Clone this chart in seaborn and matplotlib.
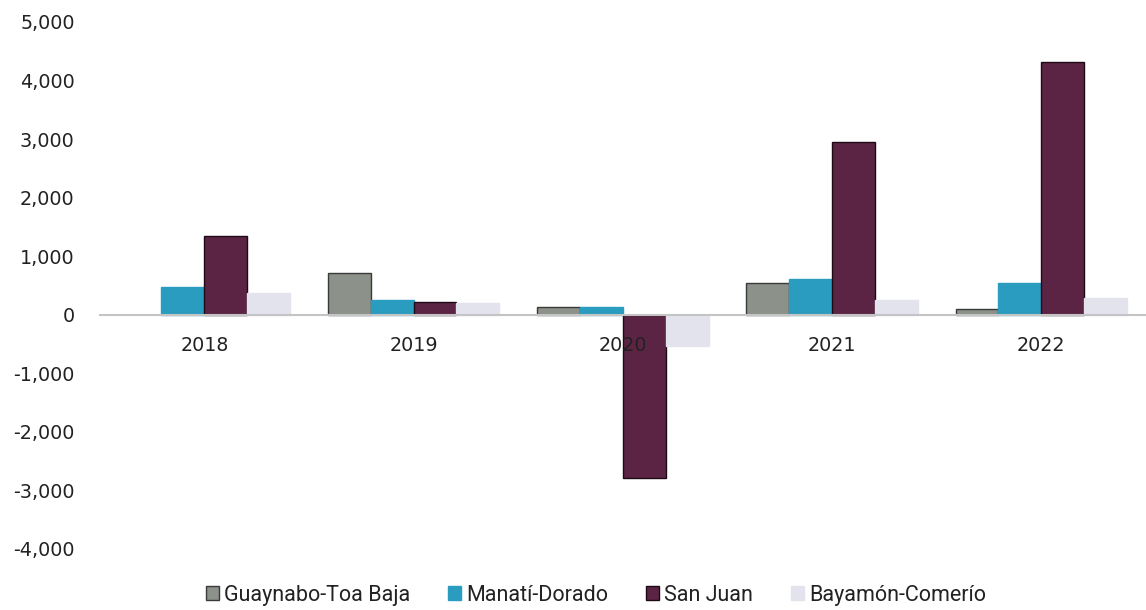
import matplotlib
matplotlib.use("Agg")
import matplotlib.pyplot as plt
import seaborn as sns
import pandas as pd
from matplotlib.ticker import FuncFormatter

years = ["2018", "2019", "2020", "2021", "2022"]
series = ["Guaynabo-Toa Baja", "Manatí-Dorado", "San Juan", "Bayamón-Comerío"]
guaynabo = [0, 720, 130, 540, 95]
manati = [475, 250, 125, 615, 550]
san_juan = [1350, 225, -2780, 2950, 4320]
bayamon = [370, 200, -530, 255, 280]
colors = ["#8c918a", "#2a9cbf", "#5c2444", "#e3e3ee"]
edges = ["#3a3a3a", "#2a9cbf", "#1e0a16", "#e3e3ee"]

rows = []
for name, vals in zip(series, [guaynabo, manati, san_juan, bayamon]):
    for y, v in zip(years, vals):
        rows.append({"year": y, "series": name, "value": v})
df = pd.DataFrame(rows)

sns.set_theme(style="white")
plt.rcParams["font.family"] = ["DejaVu Sans"]
plt.rcParams["axes.unicode_minus"] = False

fig = plt.figure(figsize=(11.46, 6.10), dpi=100)
ax = fig.add_axes([0.087, 0.1, 0.913, 0.864])

sns.barplot(data=df, x="year", y="value", hue="series", order=years,
            hue_order=series, palette=colors, width=0.82, gap=0,
            saturation=1, errorbar=None, ax=ax, legend=False)

for i, cont in enumerate(ax.containers):
    for p in cont:
        if p.get_height() == 0:
            p.set_linewidth(0)
        else:
            p.set_edgecolor(edges[i])
            p.set_linewidth(1.0)

ax.set_xlim(-0.5, 4.5)
ax.set_ylim(-4000, 5000)
ax.set_yticks(range(-4000, 5001, 1000))
ax.yaxis.set_major_formatter(FuncFormatter(lambda v, _: f"{int(v):,}"))
ax.set_xlabel("")
ax.set_ylabel("")

for s in ["top", "right", "left"]:
    ax.spines[s].set_visible(False)
ax.spines["bottom"].set_position(("data", 0))
ax.spines["bottom"].set_color("#c4c4c4")
ax.spines["bottom"].set_linewidth(1.5)
ax.set_axisbelow(False)

ax.tick_params(axis="x", length=0, pad=15, labelsize=13.8, labelcolor="#222222")
ax.tick_params(axis="y", length=0, pad=18, labelsize=13.8, labelcolor="#222222")
ax.grid(False)

handles = [plt.Rectangle((0, 0), 1, 1, facecolor=c, edgecolor=e, linewidth=1)
           for c, e in zip(colors, edges)]
fig.legend(handles, series, loc="center", ncol=4, frameon=False,
           bbox_to_anchor=(0.52, 0.024), handlelength=0.6,
           handleheight=0.6, handletextpad=0.25, columnspacing=1.75,
           borderpad=0, labelcolor="#222222",
           prop={"family": "Roboto", "size": 15.5})

fig.savefig("out.png", dpi=100, facecolor="white")
